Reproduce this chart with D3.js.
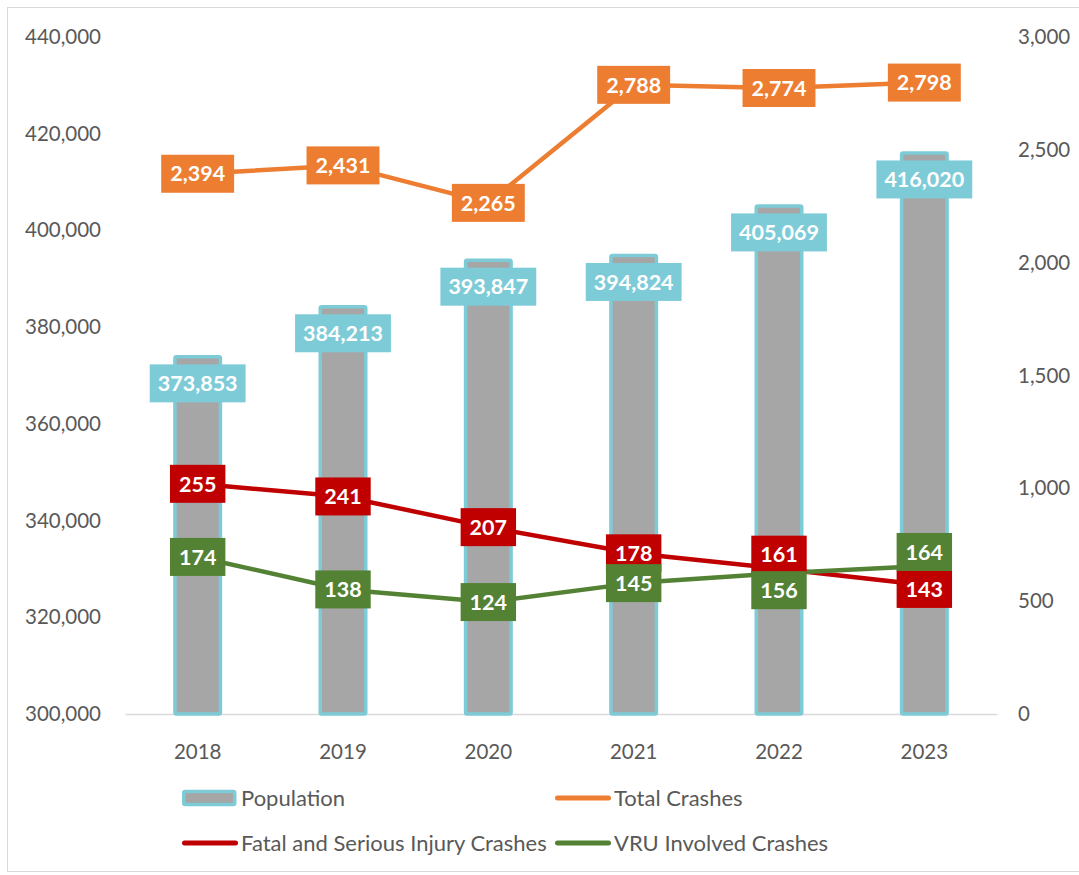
<!DOCTYPE html>
<html>
<head>
<meta charset="utf-8">
<script src="https://cdn.jsdelivr.net/npm/d3@7"></script>
<style>
  html, body { margin: 0; padding: 0; background: #fff; }
  svg { display: block; }
</style>
</head>
<body>
<svg id="chart" width="1079" height="875"></svg>
<script>
// ---- data ----
const years = ["2018", "2019", "2020", "2021", "2022", "2023"];
const population = [373853, 384213, 393847, 394824, 405069, 416020];
const totalCrashes = [2394, 2431, 2265, 2788, 2774, 2798];
const fatalSerious = [255, 241, 207, 178, 161, 143];
const vruInvolved = [174, 138, 124, 145, 156, 164];
const leftTicks = [300000, 320000, 340000, 360000, 380000, 400000, 420000, 440000];
const rightTicks = [0, 500, 1000, 1500, 2000, 2500, 3000];

// label nudges (px) where labels were moved to avoid overlap
const fatalLabelDy = [0, 0, 0, 0, -14, 4];
const vruLabelDy = [0, 0, 0, 0, 17, -14];

// ---- styles ----
const C = {
  cyan: "#7ecbd8", gray: "#a6a6a6", orange: "#ed7d31",
  red: "#c00000", green: "#548235", text: "#595959", grid: "#d9d9d9"
};
const FONT = "Lato, 'Open Sans', sans-serif";

const svg = d3.select("#chart");
const plot = { left: 125, right: 997, top: 37, bottom: 714 };

const x = d3.scaleBand().domain(years).range([plot.left, plot.right]).paddingInner(0).paddingOuter(0);
const yLeft = d3.scaleLinear().domain([300000, 440000]).range([plot.bottom, plot.top]);
const yRight = d3.scaleLinear().domain([0, 3000]).range([plot.bottom, plot.top]);
const yLines = d3.scaleLinear().domain([0, 750]).range([plot.bottom, plot.top]);
const cx = d => x(d) + x.bandwidth() / 2;

// chart border
svg.append("rect").attr("x", 7.5).attr("y", 7.5).attr("width", 1090).attr("height", 864)
  .attr("fill", "none").attr("stroke", C.grid).attr("stroke-width", 1);

// left axis
const axL = d3.axisLeft(yLeft).tickValues(leftTicks).tickFormat(d3.format(",")).tickSize(0).tickPadding(24);
const gL = svg.append("g").attr("transform", `translate(${plot.left},0)`).call(axL);
gL.select(".domain").remove();
gL.selectAll("text").attr("font-family", FONT).attr("font-size", 20.5).attr("fill", C.text);

// right axis
const axR = d3.axisRight(yRight).tickValues(rightTicks).tickFormat(d3.format(",")).tickSize(0).tickPadding(21);
const gR = svg.append("g").attr("transform", `translate(${plot.right},0)`).call(axR);
gR.select(".domain").remove();
gR.selectAll("text").attr("font-family", FONT).attr("font-size", 20.5).attr("fill", C.text);

// bottom axis
const axB = d3.axisBottom(x).tickSize(0).tickPadding(30);
const gB = svg.append("g").attr("transform", `translate(0,${plot.bottom})`).call(axB);
gB.select(".domain").attr("stroke", C.grid).attr("stroke-width", 1.5);
gB.selectAll("text").attr("font-family", FONT).attr("font-size", 20.5).attr("fill", C.text);

// bars
const barW = 45.5;
svg.append("g").selectAll("rect").data(years).join("rect")
  .attr("x", d => cx(d) - barW / 2)
  .attr("y", (d, i) => yLeft(population[i]))
  .attr("width", barW)
  .attr("height", (d, i) => plot.bottom - yLeft(population[i]))
  .attr("rx", 1.5)
  .attr("fill", C.gray).attr("stroke", C.cyan).attr("stroke-width", 3.5);

// lines
function drawLine(vals, scale, color) {
  const line = d3.line().x((d, i) => cx(years[i])).y(d => scale(d));
  svg.append("path").datum(vals).attr("d", line)
    .attr("fill", "none").attr("stroke", color).attr("stroke-width", 4.5)
    .attr("stroke-linejoin", "round").attr("stroke-linecap", "round");
}
drawLine(totalCrashes, yRight, C.orange);
drawLine(fatalSerious, yLines, C.red);
drawLine(vruInvolved, yLines, C.green);

// labels
const fmt = d3.format(",");
function label(xc, yc, txt, fill, pad) {
  const g = svg.append("g");
  const r = g.append("rect").attr("fill", fill);
  const t = g.append("text").attr("x", xc).attr("y", yc).attr("dy", "0.36em")
    .attr("text-anchor", "middle").attr("font-family", FONT).attr("font-weight", 700)
    .attr("font-size", 21.5).attr("fill", "#fff").text(txt);
  const w = t.node().getComputedTextLength() + pad * 2;
  const h = 38;
  r.attr("x", xc - w / 2).attr("y", yc - h / 2).attr("width", w).attr("height", h);
}
years.forEach((y, i) => label(cx(y), yLeft(population[i]) + 26.5, fmt(population[i]), C.cyan, 8));
years.forEach((y, i) => label(cx(y), yRight(totalCrashes[i]), fmt(totalCrashes[i]), C.orange, 9));
years.forEach((y, i) => label(cx(y), yLines(fatalSerious[i]) + fatalLabelDy[i], fmt(fatalSerious[i]), C.red, 9));
years.forEach((y, i) => label(cx(y), yLines(vruInvolved[i]) + vruLabelDy[i], fmt(vruInvolved[i]), C.green, 9));

// legend
const legend = [
  { name: "Population", type: "bar", x: 182, y: 798 },
  { name: "Total Crashes", type: "line", color: C.orange, x: 555, y: 798 },
  { name: "Fatal and Serious Injury Crashes", type: "line", color: C.red, x: 182, y: 843 },
  { name: "VRU Involved Crashes", type: "line", color: C.green, x: 555, y: 843 }
];
const lg = svg.append("g");
legend.forEach(l => {
  if (l.type === "bar") {
    lg.append("rect").attr("x", l.x + 1.75).attr("y", l.y - 6.5).attr("width", 51).attr("height", 13)
      .attr("fill", C.gray).attr("stroke", C.cyan).attr("stroke-width", 3.5).attr("rx", 1.5);
  } else {
    lg.append("line").attr("x1", l.x + 2.5).attr("x2", l.x + 53.5).attr("y1", l.y).attr("y2", l.y)
      .attr("stroke", l.color).attr("stroke-width", 5).attr("stroke-linecap", "round");
  }
  lg.append("text").attr("x", l.x + 59).attr("y", l.y).attr("dy", "0.36em")
    .attr("font-family", FONT).attr("font-size", 22).attr("fill", C.text).text(l.name);
});
</script>
</body>
</html>
